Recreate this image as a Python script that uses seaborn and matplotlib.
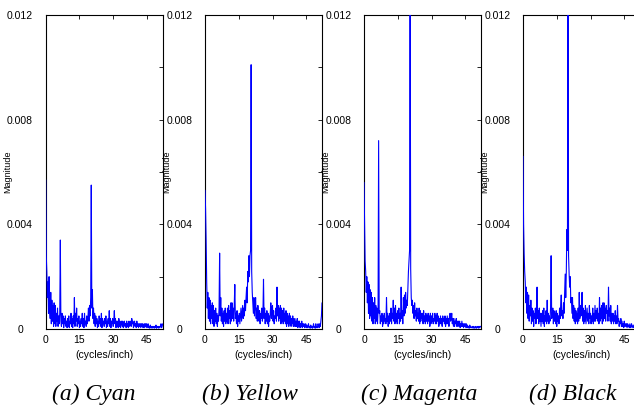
import numpy as np
import pandas as pd
import seaborn as sns
import matplotlib.pyplot as plt

# Spatial frequency bins (cycles/inch), 0 .. 52 in steps of 0.25
freq = np.arange(0, 52.25, 0.25)

# Spectrum magnitudes, in units of 1e-4
# (one row = 2 cycles/inch)
cyan = [57, 28, 22, 12, 18, 6, 20, 8,
        4, 14, 2, 11, 3, 9, 1, 10,
        2, 9, 1, 6, 3, 8, 1, 5,
        2, 6, 34, 3, 1, 6, 2, 5,
        0.5, 4, 2, 5, 1, 3, 0.5, 4,
        1, 5, 0.5, 3, 2, 6, 1, 4,
        0.5, 5, 2, 12, 1, 6, 3, 8,
        1, 4, 2, 5, 0.5, 3, 1, 4,
        2, 6, 1, 4, 0.5, 6, 2, 3,
        1, 5, 2, 4, 8, 3, 9, 5,
        12, 55, 8, 15, 4, 8, 2, 6,
        1, 5, 2, 4, 0.5, 3, 1, 5,
        2, 4, 1, 6, 0.5, 4, 2, 3,
        1, 4, 2, 5, 0.5, 3, 1, 4,
        2, 7, 1, 4, 0.5, 3, 2, 4,
        1, 3, 7, 2, 4, 0.5, 3, 1,
        3, 0.5, 4, 1, 3, 0.5, 2, 3,
        1, 3, 0.5, 2, 3, 1, 2, 0.5,
        3, 1, 2, 0.5, 3, 1, 2, 3,
        1, 4, 2, 3, 0.5, 2, 3, 1,
        2, 0.5, 3, 1, 2, 0.5, 2, 1,
        2, 0.5, 2, 1, 2, 0.5, 1, 2,
        0.5, 2, 1, 2, 0.5, 1, 2, 0.5,
        1, 0.3, 1.5, 0.5, 1, 0.3, 1, 0.5,
        1, 0.3, 1, 0.5, 1.5, 0.3, 1, 0.5,
        1, 0.3, 1, 0.5, 1, 2, 0.5, 1,
        2]
yellow = [53, 46, 34, 18, 8, 14, 4, 12,
          3, 11, 2, 9, 4, 10, 2, 9,
          1, 7, 3, 8, 2, 6, 1, 5,
          3, 8, 29, 5, 12, 3, 8, 2,
          6, 1, 7, 3, 8, 2, 6, 3,
          8, 2, 9, 4, 7, 2, 10, 3,
          10, 4, 8, 3, 9, 17, 4, 6,
          2, 7, 1, 5, 3, 6, 2, 5,
          8, 3, 6, 9, 4, 8, 5, 11,
          7, 12, 16, 10, 22, 18, 28, 20,
          28, 30, 101, 22, 14, 10, 6, 12,
          5, 9, 12, 4, 8, 3, 9, 5,
          3, 7, 2, 6, 4, 8, 3, 6,
          19, 4, 8, 2, 6, 3, 7, 2,
          6, 1, 5, 3, 6, 10, 4, 8,
          9, 3, 7, 2, 5, 4, 8, 3,
          16, 5, 9, 3, 8, 4, 9, 2,
          8, 3, 7, 2, 8, 3, 6, 2,
          7, 1, 6, 2, 5, 1, 6, 2,
          5, 1, 4, 2, 5, 1, 4, 1,
          4, 1, 3, 1, 4, 0.5, 3, 1,
          3, 0.5, 2, 1, 3, 0.5, 2, 1,
          2, 0.5, 1, 2, 0.5, 1.5, 0.5, 1,
          2, 0.5, 1, 0.3, 1.5, 0.5, 1, 0.3,
          1, 2, 0.5, 1, 0.3, 2, 0.5, 1,
          0.5, 2, 1, 0.5, 2, 1, 3, 5,
          10]
magenta = [56, 40, 26, 22, 14, 20, 10, 18,
           6, 17, 4, 15, 5, 14, 3, 12,
           2, 10, 4, 12, 2, 9, 3, 8,
           2, 7, 72, 6, 7, 2, 5, 3,
           6, 1, 5, 2, 6, 3, 4, 2,
           12, 3, 6, 1, 5, 2, 6, 3,
           8, 2, 6, 4, 11, 3, 8, 2,
           9, 3, 6, 2, 7, 4, 8, 2,
           6, 3, 16, 4, 7, 2, 12, 5,
           13, 6, 14, 8, 11, 9, 16, 22,
           26, 30, 140, 23, 12, 9, 11, 6,
           9, 4, 10, 5, 7, 3, 8, 4,
           6, 3, 8, 2, 7, 3, 6, 4,
           6, 2, 7, 3, 5, 2, 6, 3,
           5, 2, 6, 3, 5, 1, 6, 2,
           5, 3, 6, 2, 4, 3, 6, 2,
           5, 2, 6, 3, 5, 1, 4, 2,
           5, 2, 4, 1, 5, 3, 4, 2,
           5, 1, 4, 2, 5, 2, 4, 1,
           5, 6, 3, 4, 6, 2, 4, 1,
           4, 1, 3, 2, 4, 1, 3, 1,
           3, 1, 3, 0.5, 2, 1, 3, 1,
           2, 0.5, 2, 1, 2, 0.5, 2, 0.5,
           1.5, 0.5, 1, 0.3, 1.5, 0.5, 1, 0.5,
           0.5, 1, 0.3, 1, 0.5, 0.3, 1, 0.5,
           0.3, 1, 0.5, 1, 0.3, 1, 0.5, 1,
           1]
black = [66, 40, 29, 22, 18, 10, 16, 6,
         14, 4, 13, 3, 9, 5, 11, 2,
         8, 3, 7, 1, 6, 4, 8, 2,
         5, 16, 4, 7, 2, 8, 3, 6,
         1, 6, 3, 7, 2, 8, 1, 5,
         3, 7, 2, 11, 3, 6, 2, 5,
         3, 8, 28, 4, 5, 8, 2, 7,
         3, 6, 2, 7, 1, 6, 3, 5,
         2, 8, 4, 9, 13, 5, 7, 4,
         10, 6, 14, 21, 12, 22, 38, 30,
         150, 28, 21, 16, 20, 10, 12, 6,
         12, 4, 9, 3, 8, 2, 7, 3,
         6, 2, 8, 3, 14, 4, 9, 5,
         7, 14, 3, 8, 2, 7, 3, 9,
         2, 5, 8, 3, 6, 2, 9, 4,
         6, 2, 5, 3, 8, 2, 6, 3,
         9, 3, 7, 4, 8, 3, 6, 2,
         12, 3, 8, 4, 9, 2, 10, 3,
         10, 4, 8, 3, 9, 6, 7, 3,
         16, 5, 8, 3, 9, 2, 6, 3,
         6, 2, 5, 3, 7, 2, 5, 2,
         9, 3, 4, 1, 3, 2, 4, 1,
         3, 1, 2, 0.5, 3, 1, 2, 1,
         2, 0.5, 2, 1, 1.5, 0.5, 2, 0.5,
         1, 2, 0.5, 1, 1.5, 0.5, 1, 0.5,
         1, 0.5, 1, 0.3, 1, 0.5, 1, 0.5,
         1]

captions = ['(a) Cyan', '(b) Yellow', '(c) Magenta', '(d) Black']
series = [cyan, yellow, magenta, black]

sns.set_style('white', {'text.color': 'black', 'axes.labelcolor': 'black'})
plt.rcParams['font.family'] = ['Liberation Sans', 'DejaVu Sans']

fig = plt.figure(figsize=(6.34, 4.07), dpi=100)
W, H = 634.0, 407.0
lefts = [45.7, 205, 364, 523]
caption_x = [94, 250, 419, 573]

for left, vals, cap, cx in zip(lefts, series, captions, caption_x):
    ax = fig.add_axes([left / W, 1 - 329 / H, 117 / W, 314 / H])
    df = pd.DataFrame({'freq': freq, 'mag': np.array(vals) * 1e-4})
    sns.lineplot(data=df, x='freq', y='mag', ax=ax, color='#0000ff',
                 linewidth=0.8, estimator=None, zorder=3)
    ax.set_xlim(0, 52)
    ax.set_ylim(0, 0.012)
    ax.set_xticks([0, 15, 30, 45])
    ax.set_xticklabels(['0', '15', '30', '45'])
    ax.set_yticks([0, 0.002, 0.004, 0.006, 0.008, 0.010, 0.012])
    ax.set_yticklabels(['0', '', '0.004', '', '0.008', '', '0.012'])
    for lab in ax.get_yticklabels():
        lab.set_horizontalalignment('center')
    ax.tick_params(direction='in', top=True, right=True, length=3, width=0.6,
                   labelsize=7.5, colors='black')
    ax.tick_params(axis='y', pad=18.5)
    ax.tick_params(axis='x', pad=4)
    for s in ax.spines.values():
        s.set_color('black')
        s.set_linewidth(0.8)
    ax.set_xlabel('(cycles/inch)', fontsize=7.5, labelpad=4, color='black')
    ax.set_ylabel('Magnitude', fontsize=6.5, color='black')
    ax.yaxis.set_label_coords(-0.29, 0.5)
    fig.text(cx / W, 1 - 394 / H, cap, ha='center', va='center',
             family=['Liberation Serif', 'DejaVu Serif'], style='italic',
             fontsize=17, color='black')

fig.savefig('out.png', dpi=100)
